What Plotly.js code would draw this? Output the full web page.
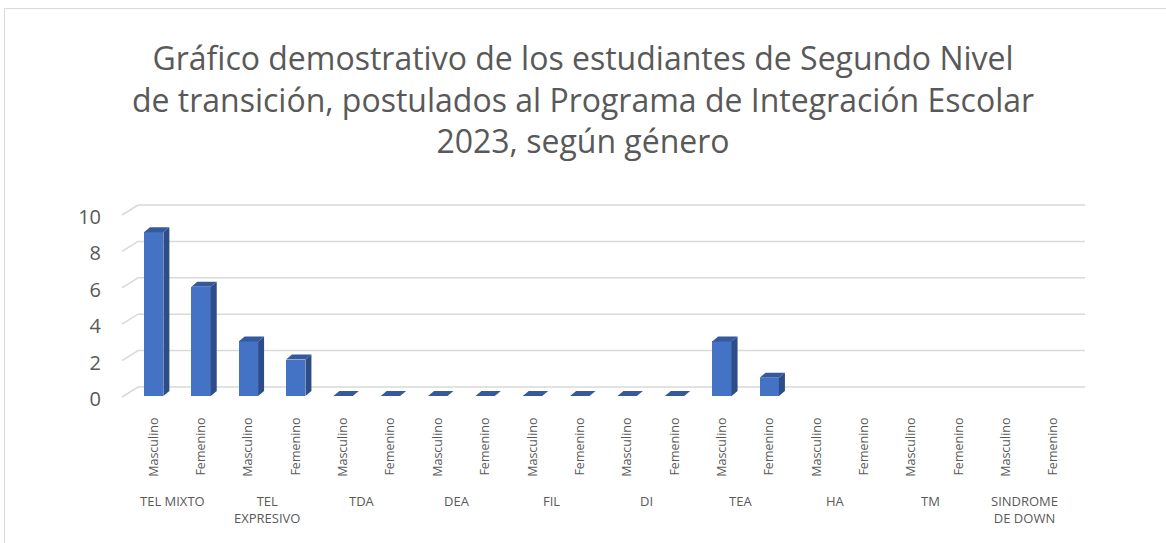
<!DOCTYPE html>
<html>
<head>
<meta charset="utf-8">
<script src="https://cdn.plot.ly/plotly-3.0.1.min.js"></script>
<style>
  html, body { margin: 0; padding: 0; background: #ffffff; }
  #chart { width: 1166px; height: 543px; position: relative; }
  #frame { position: absolute; left: 4px; top: 8px; width: 1170px; height: 545px; border: 1.5px solid #d9d9d9; box-sizing: border-box; pointer-events: none; }
</style>
</head>
<body>
<div id="chart"></div>
<div id="frame"></div>
<script>
// ---- data ----
const groups = ['TEL MIXTO', 'TEL<br>EXPRESIVO', 'TDA', 'DEA', 'FIL', 'DI', 'TEA', 'HA', 'TM', 'SINDROME<br>DE DOWN'];
const genders = ['Masculino', 'Femenino'];
const masculino = [9, 3, 0, 0, 0, 0, 3, null, null, null];
const femenino  = [6, 2, 0, 0, 0, 0, 1, null, null, null];
const yTicks = [0, 2, 4, 6, 8, 10];
const titleText = 'Gráfico demostrativo de los estudiantes de Segundo Nivel<br>de transición, postulados al Programa de Integración Escolar<br>2023, según género';

// ---- geometry / style ----
const W = 1166, H = 543;
const M = { l: 130, r: 89, t: 214, b: 147 };
const plotW = W - M.l - M.r, plotH = H - M.t - M.b;
const yMax = 10;
const nCat = groups.length * genders.length;
const pxPerCat = plotW / nCat;
const barW = 0.41;                    // in category units
const barPx = barW * pxPerCat;
const ppu = plotH / yMax;             // pixels per y unit
const dx = 6, dy = 5;                 // depth offset of 3D bars
const frontCol = '#4472c4', sideCol = '#2c4d87', topCol = '#35599c';
const gridCol = '#d9d9d9', txtCol = '#595959';

// build flat arrays
const xs = [], ys = [], tickText = [];
groups.forEach((g, gi) => {
  const vals = [masculino[gi], femenino[gi]];
  genders.forEach((s, si) => {
    xs.push(gi * 2 + si);
    ys.push(vals[si]);
    tickText.push(s);
  });
});

const shapes = [];
// back-wall gridlines with left slanted stub (paper refs so they are not clipped)
yTicks.forEach(v => {
  shapes.push({
    type: 'path', layer: 'below',
    xref: 'paper', xsizemode: 'pixel', xanchor: 0,
    yref: 'paper', ysizemode: 'pixel', yanchor: v / yMax,
    path: `M -8,-1 L 8,9 L ${plotW + 8},9`,
    line: { color: gridCol, width: 1.5 }
  });
});
// 3D faces for each bar
xs.forEach((x, i) => {
  const v = ys[i];
  if (v === null || v === undefined) return;
  const hpx = v * ppu;
  shapes.push({
    type: 'path', layer: 'above',
    xref: 'x', xsizemode: 'pixel', xanchor: x + barW / 2,
    yref: 'paper', ysizemode: 'pixel', yanchor: v / yMax,
    path: `M ${-barPx},0 L ${-barPx + dx},${dy} L ${dx},${dy} L 0,0 Z`,
    fillcolor: topCol, line: { width: 0 }
  });
  if (v > 0) {
    shapes.push({
      type: 'path', layer: 'above',
      xref: 'x', xsizemode: 'pixel', xanchor: x + barW / 2,
      yref: 'paper', ysizemode: 'pixel', yanchor: v / yMax,
      path: `M 0,0 L ${dx},${dy} L ${dx},${dy - hpx} L 0,${-hpx} Z`,
      fillcolor: sideCol, line: { width: 0 }
    });
  }
});

// group labels
const annotations = groups.map((g, gi) => ({
  text: g, xref: 'x', x: gi * 2 + 0.5 - 0.1, yref: 'paper', y: 0,
  yanchor: 'top', xanchor: 'center', yshift: -94, showarrow: false,
  font: { family: 'Open Sans, sans-serif', size: 13, color: txtCol }, align: 'center'
}));

const trace = {
  type: 'bar', x: xs, y: ys, width: barW,
  marker: { color: frontCol, line: { width: 0 } },
  hoverinfo: 'y', cliponaxis: false
};

const layout = {
  width: W, height: H,
  margin: M,
  paper_bgcolor: 'rgba(0,0,0,0)', plot_bgcolor: 'rgba(0,0,0,0)',
  title: {
    text: titleText, x: 0.5, xanchor: 'center', yref: 'container', y: 1 - 70 / H, yanchor: 'middle',
    font: { family: 'Open Sans, sans-serif', size: 32, color: txtCol }
  },
  xaxis: {
    range: [-0.5, nCat - 0.5], tickvals: xs, ticktext: tickText, tickangle: -90,
    showgrid: false, zeroline: false, showline: false, ticks: '', ticklabelstandoff: 18,
    tickfont: { family: 'Open Sans, sans-serif', size: 12.5, color: txtCol }, fixedrange: true
  },
  yaxis: {
    range: [0, yMax], tickvals: yTicks, showgrid: false, zeroline: false, showline: false,
    ticks: '', ticklabelstandoff: 28, ticklabelshift: 3,
    tickfont: { family: 'Open Sans, sans-serif', size: 20, color: txtCol }, fixedrange: true
  },
  shapes: shapes,
  annotations: annotations,
  showlegend: false,
  bargap: 0
};

Plotly.newPlot('chart', [trace], layout, { displayModeBar: false, staticPlot: true });
</script>
</body>
</html>
